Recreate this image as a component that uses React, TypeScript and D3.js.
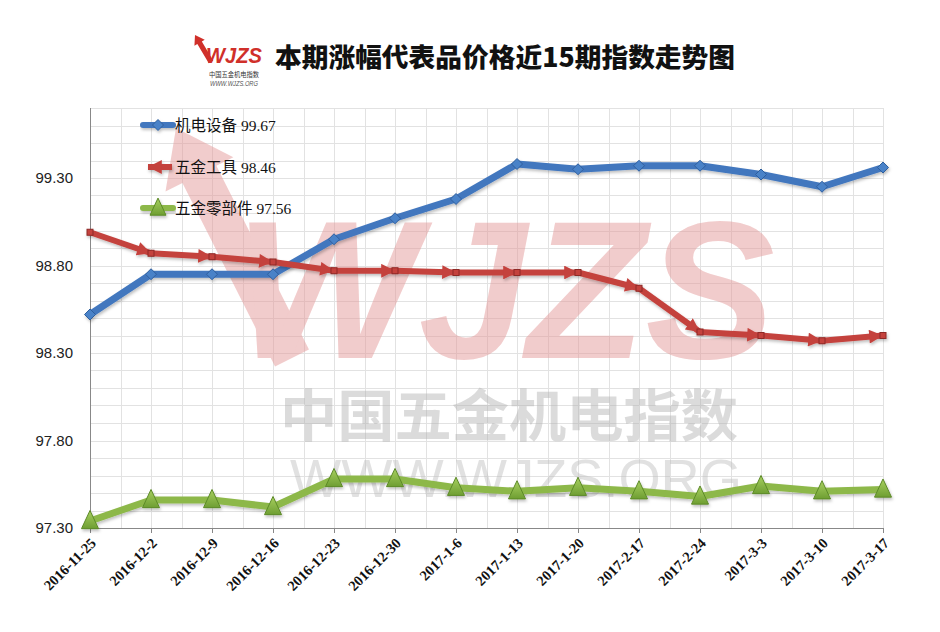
import React from "react";
import * as d3 from "d3";

const dates = ["2016-11-25","2016-12-2","2016-12-9","2016-12-16","2016-12-23","2016-12-30","2017-1-6","2017-1-13","2017-1-20","2017-2-17","2017-2-24","2017-3-3","2017-3-10","2017-3-17"];
const jidian = [98.52,98.75,98.75,98.75,98.95,99.07,99.18,99.38,99.35,99.37,99.37,99.32,99.25,99.36];
const gongju = [98.99,98.87,98.85,98.82,98.77,98.77,98.76,98.76,98.76,98.67,98.42,98.40,98.37,98.40];
const lingbujian = [97.34,97.46,97.46,97.42,97.58,97.58,97.53,97.51,97.53,97.51,97.48,97.54,97.51,97.52];
const yTicks = [97.3, 97.8, 98.3, 98.8, 99.3];
const legendLabels = ["机电设备 99.67", "五金工具 98.46", "五金零部件 97.56"];
const title = "本期涨幅代表品价格近15期指数走势图";

const W = 940, H = 632;
const X0 = 90, X1 = 883, YB = 528, YT = 108;

function arrowPolygon(A: number[], tip: number[], headLen: number, sw: number, hw: number) {
  const dl = Math.hypot(tip[0] - A[0], tip[1] - A[1]);
  const dir = [(tip[0] - A[0]) / dl, (tip[1] - A[1]) / dl];
  const perp = [-dir[1], dir[0]];
  const B = [tip[0] - dir[0] * headLen, tip[1] - dir[1] * headLen];
  return [
    [A[0] + perp[0] * sw, A[1] + perp[1] * sw],
    [B[0] + perp[0] * sw, B[1] + perp[1] * sw],
    [B[0] + perp[0] * hw, B[1] + perp[1] * hw],
    tip,
    [B[0] - perp[0] * hw, B[1] - perp[1] * hw],
    [B[0] - perp[0] * sw, B[1] - perp[1] * sw],
    [A[0] - perp[0] * sw, A[1] - perp[1] * sw],
  ].map((p) => p.join(",")).join(" ");
}

export default function App() {
  const x = d3.scalePoint<string>().domain(dates).range([X0, X1]);
  const y = d3.scaleLinear().domain([97.3, 99.7]).range([YB, YT]);
  const step = x.step();
  const line = d3.line<number>().x((_, i) => x(dates[i])!).y((d) => y(d));

  const hGrid = d3.range(0, 25).map((i) => 97.3 + i * 0.1);
  const vGrid = d3.range(0, 27).map((i) => X0 + (i * step) / 2);

  const blue = "#4277BE", blueDark = "#2F5F9E";
  const red = "#C4423E", redDark = "#8E2A27";
  const green = "#8DB84A", greenDark = "#5C8A27";

  const tri = (cx: number, cy: number, s: number) =>
    `M${cx},${cy - s * 0.62}L${cx + s * 0.5},${cy + s * 0.45}L${cx - s * 0.5},${cy + s * 0.45}Z`;
  const diamond = (cx: number, cy: number, s: number) =>
    `M${cx},${cy - s}L${cx + s},${cy}L${cx},${cy + s}L${cx - s},${cy}Z`;

  const bigArrow = arrowPolygon([292, 358], [176, 128], 52, 19, 38);
  const logoArrow = arrowPolygon([211, 62], [195, 35], 9, 2.6, 6);

  return (
    <div style={{ position: "absolute", left: 0, top: 0 }}>
      <svg width={W} height={H} style={{ display: "block", background: "#fff" }}>
        <defs>
          <filter id="sh" x="-10%" y="-10%" width="120%" height="130%">
            <feDropShadow dx="1" dy="2" stdDeviation="1.5" floodColor="#000" floodOpacity="0.25" />
          </filter>
          <marker id="arr" viewBox="0 0 10 10" refX="10" refY="5" markerWidth="2.4" markerHeight="2.3" orient="auto" markerUnits="strokeWidth">
            <path d="M0,0L10,5L0,10Z" fill={red} />
          </marker>
          <linearGradient id="gTri" x1="0" y1="0" x2="0" y2="1">
            <stop offset="0" stopColor="#A8D060" />
            <stop offset="1" stopColor="#6E9E32" />
          </linearGradient>
        </defs>

        {/* title + logo */}
        <g>
          <polygon points={logoArrow} fill="#D0302A" />
          <text x={206} y={63} fontFamily="Liberation Sans, Arial" fontWeight="bold" fontStyle="italic" fontSize={22} fill="#D0302A" textLength={56} lengthAdjust="spacingAndGlyphs">WJZS</text>
          <text x={209} y={76.5} fontFamily="Noto Sans CJK SC" fontSize={7} fill="#333" textLength={50} lengthAdjust="spacingAndGlyphs">中国五金机电指数</text>
          <text x={210} y={86} fontFamily="Liberation Sans, Arial" fontStyle="italic" fontSize={6.5} fill="#555" textLength={48} lengthAdjust="spacingAndGlyphs">WWW.WJZS.ORG</text>
          <text x={275} y={67} fontFamily="Noto Sans CJK SC" fontWeight={900} fontSize={26} fill="#111" textLength={460} lengthAdjust="spacingAndGlyphs">{title}</text>
        </g>

        {/* grid */}
        <g stroke="#E2E2E2" strokeWidth={1}>
          {hGrid.map((v, i) => (
            <line key={"h" + i} x1={X0} x2={X1} y1={Math.round(y(v)) + 0.5} y2={Math.round(y(v)) + 0.5} />
          ))}
          {vGrid.map((vx, i) => (
            <line key={"v" + i} x1={Math.round(vx) + 0.5} x2={Math.round(vx) + 0.5} y1={YT} y2={YB} />
          ))}
        </g>

        {/* watermark */}
        <g opacity={0.5}>
          <polygon points={bigArrow} fill="#E49A9A" />
          <text x={235} y={358} fontFamily="Liberation Sans, Arial" fontWeight="bold" fontStyle="italic" fontSize={196} fill="#E49A9A" textLength={540} lengthAdjust="spacingAndGlyphs">WJZS</text>
        </g>
        <g opacity={0.45}>
          <text x={280} y={436} fontFamily="Noto Sans CJK SC" fontWeight="bold" fontSize={56} fill="#B0B0B0" textLength={458} lengthAdjust="spacingAndGlyphs">中国五金机电指数</text>
          <text x={290} y={497} fontFamily="Liberation Sans, Arial" fontSize={54} fill="#BDBDBD" textLength={452} lengthAdjust="spacingAndGlyphs">WWW.WJZS.ORG</text>
        </g>

        {/* axes */}
        <line x1={X0 + 0.5} x2={X0 + 0.5} y1={YT} y2={YB} stroke="#888" />
        <line x1={X0} x2={X1 + 1} y1={YB + 0.5} y2={YB + 0.5} stroke="#888" />
        {dates.map((d) => (
          <line key={"t" + d} x1={Math.round(x(d)!) + 0.5} x2={Math.round(x(d)!) + 0.5} y1={YB} y2={YB + 5} stroke="#888" />
        ))}
        {yTicks.map((t) => (
          <text key={"y" + t} x={73} y={y(t) + 5} textAnchor="end" fontFamily="Liberation Sans, Arial" fontSize={15} fill="#222">{t.toFixed(2)}</text>
        ))}
        {dates.map((d) => (
          <text key={"xl" + d} transform={`translate(${x(d)! + 7},${YB + 16}) rotate(-45)`} textAnchor="end" fontFamily="Liberation Serif, serif" fontWeight="bold" fontSize={14.5} fill="#111">{d}</text>
        ))}

        {/* blue series */}
        <g filter="url(#sh)">
          <path d={line(jidian)!} fill="none" stroke={blue} strokeWidth={7} strokeLinejoin="round" />
          {jidian.map((v, i) => (
            <path key={"b" + i} d={diamond(x(dates[i])!, y(v), 5.5)} fill="#4A82C8" stroke={blueDark} strokeWidth={1} />
          ))}
        </g>

        {/* red series */}
        <g filter="url(#sh)">
          {gongju.slice(1).map((v, i) => (
            <line key={"r" + i} x1={x(dates[i])!} y1={y(gongju[i])} x2={x(dates[i + 1])!} y2={y(v)} stroke={red} strokeWidth={6} markerEnd="url(#arr)" />
          ))}
          {gongju.map((v, i) => (
            <rect key={"rs" + i} x={x(dates[i])! - 3} y={y(v) - 3} width={6} height={6} fill={red} stroke={redDark} strokeWidth={1} />
          ))}
        </g>

        {/* green series */}
        <g filter="url(#sh)">
          <path d={line(lingbujian)!} fill="none" stroke={green} strokeWidth={7} strokeLinejoin="round" />
          {lingbujian.map((v, i) => (
            <path key={"g" + i} d={tri(x(dates[i])!, y(v), 17)} fill="url(#gTri)" stroke={greenDark} strokeWidth={1} />
          ))}
        </g>

        {/* legend */}
        <g>
          <g filter="url(#sh)">
            <line x1={143} x2={173} y1={125} y2={125} stroke={blue} strokeWidth={6} strokeLinecap="round" />
            <path d={diamond(158, 125, 5.5)} fill="#4A82C8" stroke={blueDark} strokeWidth={1} />
            <line x1={172} x2={148} y1={167} y2={167} stroke={red} strokeWidth={6} markerEnd="url(#arr)" />
            <line x1={143} x2={173} y1={208} y2={208} stroke={green} strokeWidth={6} strokeLinecap="round" />
            <path d={tri(158, 208, 16)} fill="url(#gTri)" stroke={greenDark} strokeWidth={1} />
          </g>
          {legendLabels.map((l, i) => (
            <text key={"lg" + i} x={175} y={131 + i * 41.5} fontFamily="Liberation Serif, Noto Sans CJK SC, serif" fontSize={15.5} fill="#111">{l}</text>
          ))}
        </g>
      </svg>
    </div>
  );
}
